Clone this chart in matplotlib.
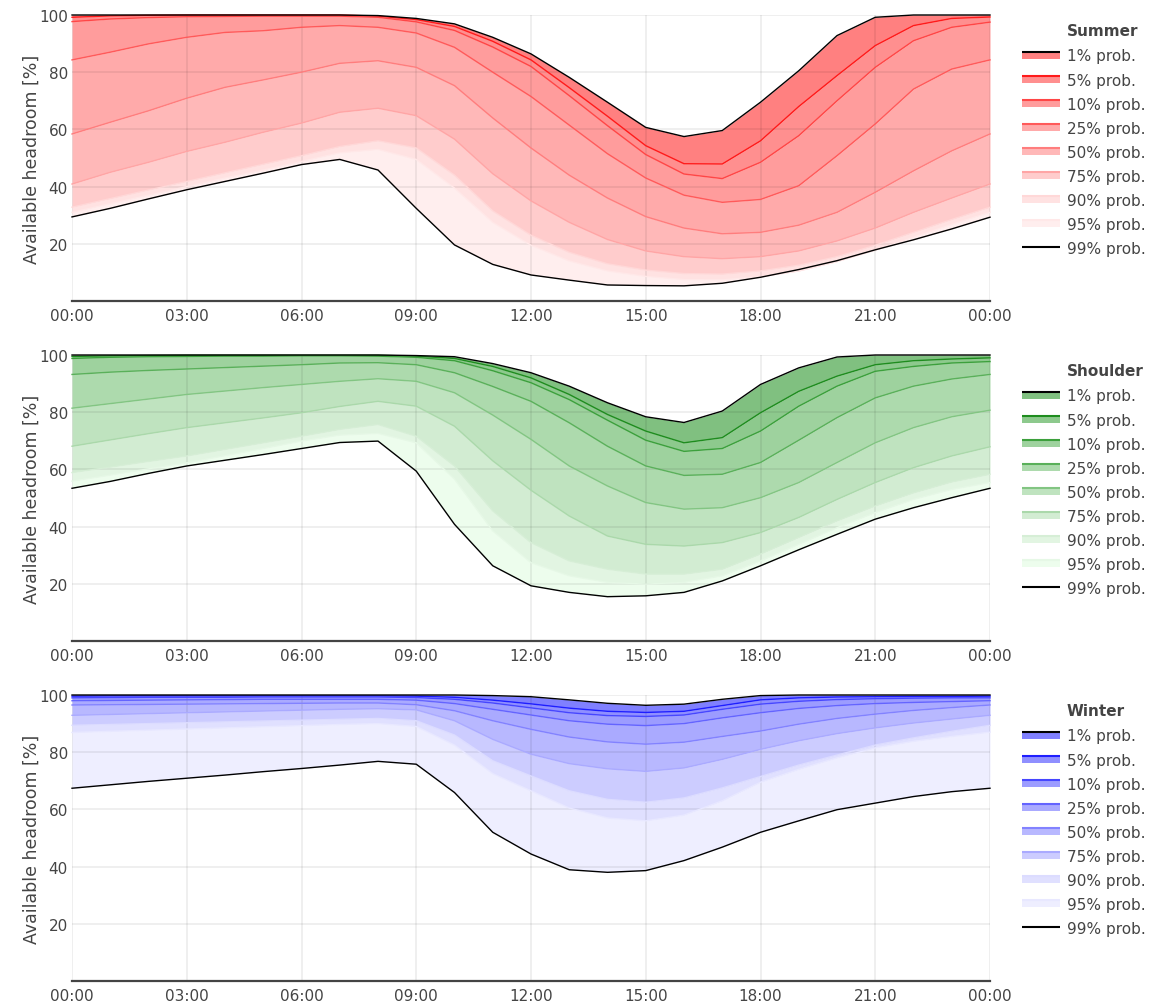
import matplotlib
matplotlib.use("Agg")
import matplotlib.pyplot as plt
from matplotlib.legend_handler import HandlerBase
from matplotlib.patches import Rectangle, Patch
from matplotlib.lines import Line2D

plt.rcParams['font.family'] = ['DejaVu Sans']

hours = list(range(25))
tick_hours = [0, 3, 6, 9, 12, 15, 18, 21, 24]
tick_labels = ["00:00", "03:00", "06:00", "09:00", "12:00", "15:00", "18:00", "21:00", "00:00"]
y_ticks = [20, 40, 60, 80, 100]
prob_labels = ["1% prob.", "5% prob.", "10% prob.", "25% prob.", "50% prob.",
               "75% prob.", "90% prob.", "95% prob.", "99% prob."]
seasons = ["Summer", "Shoulder", "Winter"]

# summer headroom per probability level (hourly, 00:00 .. 24:00)
summer_p1 = [100, 100, 100, 100, 100, 100, 100, 100, 99.8, 98.8, 96.9, 92.2, 86.4, 78.2, 69.5, 60.7, 57.5, 59.6, 69.5, 80.5, 92.8, 99.2, 100, 100, 100]
summer_p5 = [99.2, 99.7, 99.9, 100, 100, 100, 100, 100, 99.6, 98.4, 96.0, 90.8, 84.3, 74.6, 64.6, 54.3, 48.0, 47.9, 56.0, 68.0, 78.8, 89.3, 96.3, 98.8, 99.3]
summer_p10 = [97.7, 98.6, 99.1, 99.4, 99.5, 99.6, 99.6, 99.6, 99.2, 97.6, 94.6, 88.8, 82.0, 71.8, 61.3, 51.2, 44.4, 42.8, 48.5, 57.8, 70.0, 81.7, 91.0, 95.7, 97.5]
summer_p25 = [84.3, 87.0, 89.9, 92.2, 93.9, 94.5, 95.7, 96.3, 95.7, 93.7, 88.7, 80.0, 71.5, 61.5, 51.5, 43.0, 37.0, 34.5, 35.5, 40.3, 50.8, 61.9, 74.1, 81.1, 84.3]
summer_p50 = [58.4, 62.5, 66.5, 70.9, 74.7, 77.3, 80.0, 83.1, 84.0, 81.7, 75.3, 64.0, 53.5, 44.0, 36.0, 29.5, 25.5, 23.5, 24.0, 26.5, 31.0, 38.0, 45.5, 52.5, 58.4]
summer_p75 = [40.9, 45.0, 48.5, 52.3, 55.5, 59.0, 62.2, 66.0, 67.4, 64.8, 56.6, 44.5, 35.0, 27.5, 21.5, 17.5, 15.5, 14.8, 15.5, 17.5, 21.0, 25.5, 31.0, 36.0, 40.9]
summer_p90 = [32.8, 35.8, 38.8, 41.8, 44.8, 47.8, 50.8, 54.0, 56.0, 53.5, 44.0, 31.5, 23.0, 17.0, 13.0, 10.8, 9.6, 9.4, 10.5, 12.5, 15.5, 19.5, 24.0, 28.5, 32.8]
summer_p95 = [31.0, 34.0, 37.0, 40.0, 43.0, 45.8, 48.8, 51.8, 53.0, 49.5, 39.5, 27.5, 19.5, 14.0, 10.5, 8.6, 7.5, 7.4, 8.5, 10.5, 13.8, 17.8, 22.3, 26.8, 31.0]
summer_p99 = [29.4, 32.4, 35.7, 38.9, 41.8, 44.7, 47.7, 49.5, 45.8, 32.4, 19.6, 12.8, 9.1, 7.3, 5.6, 5.4, 5.3, 6.2, 8.3, 11.0, 14.1, 17.9, 21.4, 25.2, 29.3]

# shoulder
shoulder_p1 = [100, 100, 100, 100, 100, 100, 100, 100, 100, 99.8, 99.4, 97.0, 93.8, 89.1, 83.3, 78.4, 76.4, 80.4, 89.7, 95.5, 99.3, 100, 100, 100, 100]
shoulder_p5 = [99.5, 99.7, 99.8, 99.9, 99.9, 99.9, 99.9, 99.9, 99.9, 99.6, 98.8, 96.0, 92.0, 86.2, 79.2, 73.4, 69.3, 71.1, 79.8, 87.3, 92.6, 96.6, 98.0, 98.6, 99.0]
shoulder_p10 = [98.8, 99.2, 99.4, 99.5, 99.6, 99.6, 99.7, 99.7, 99.6, 99.2, 98.0, 94.5, 90.3, 84.4, 77.2, 70.2, 66.3, 67.3, 73.4, 82.1, 89.1, 94.3, 96.0, 97.2, 97.7]
shoulder_p25 = [93.2, 94.0, 94.6, 95.1, 95.6, 96.1, 96.6, 97.2, 97.3, 96.6, 93.8, 89.0, 83.8, 76.3, 68.1, 61.2, 57.9, 58.3, 62.4, 70.2, 78.1, 85.0, 89.1, 91.6, 93.2]
shoulder_p50 = [81.4, 83.0, 84.6, 86.2, 87.4, 88.6, 89.7, 90.8, 91.7, 90.8, 86.8, 79.0, 70.5, 61.2, 54.2, 48.4, 46.1, 46.6, 50.1, 55.4, 62.4, 69.3, 74.6, 78.4, 80.7]
shoulder_p75 = [68.1, 70.3, 72.5, 74.6, 76.3, 78.0, 79.8, 82.0, 83.8, 82.1, 75.1, 63.0, 52.7, 43.7, 36.7, 33.8, 33.2, 34.4, 37.9, 43.2, 49.5, 55.4, 60.6, 64.7, 67.9]
shoulder_p90 = [58.9, 60.8, 62.8, 64.7, 67.0, 69.3, 71.6, 74.0, 75.7, 71.6, 61.2, 45.5, 34.4, 28.0, 25.1, 23.4, 23.4, 25.1, 30.4, 36.2, 42.0, 47.2, 51.8, 55.6, 58.3]
shoulder_p95 = [55.9, 58.0, 60.2, 62.3, 64.8, 67.3, 69.9, 72.0, 72.6, 69.3, 56.6, 38.5, 27.4, 22.8, 20.5, 19.9, 20.5, 22.8, 28.0, 33.8, 39.6, 44.9, 49.5, 53.0, 55.4]
shoulder_p99 = [53.4, 55.8, 58.6, 61.2, 63.2, 65.2, 67.3, 69.4, 69.9, 59.4, 40.8, 26.3, 19.3, 17.0, 15.5, 15.8, 17.0, 21.0, 26.3, 31.9, 37.3, 42.6, 46.6, 50.1, 53.4]

# winter
winter_p1 = [100, 100, 100, 100, 100, 100, 100, 100, 100, 100, 100, 99.8, 99.4, 98.3, 97.1, 96.4, 96.8, 98.5, 99.8, 100, 100, 100, 100, 100, 100]
winter_p5 = [99.6, 99.7, 99.7, 99.7, 99.7, 99.7, 99.7, 99.7, 99.7, 99.6, 99.2, 98.2, 96.9, 95.4, 94.3, 93.9, 94.3, 96.3, 98.3, 99.0, 99.3, 99.4, 99.5, 99.5, 99.6]
winter_p10 = [99.0, 99.1, 99.2, 99.2, 99.2, 99.3, 99.3, 99.3, 99.3, 99.1, 98.5, 97.2, 95.5, 93.8, 92.8, 92.5, 93.0, 95.0, 96.8, 97.8, 98.4, 98.7, 98.9, 99.0, 99.0]
winter_p25 = [98.0, 98.1, 98.2, 98.3, 98.4, 98.5, 98.5, 98.5, 98.5, 98.2, 97.0, 95.0, 93.0, 91.0, 89.8, 89.3, 90.0, 92.0, 93.8, 95.3, 96.3, 97.0, 97.4, 97.7, 98.0]
winter_p50 = [96.5, 96.6, 96.7, 96.8, 96.9, 97.0, 97.1, 97.2, 97.2, 96.6, 94.5, 91.0, 88.0, 85.3, 83.6, 82.8, 83.5, 85.5, 87.4, 89.8, 91.8, 93.3, 94.6, 95.6, 96.5]
winter_p75 = [92.9, 93.2, 93.5, 93.8, 94.1, 94.4, 94.7, 95.0, 95.2, 94.8, 91.0, 84.5, 79.3, 76.0, 74.2, 73.3, 74.5, 77.5, 81.0, 84.0, 86.5, 88.5, 90.2, 91.6, 92.9]
winter_p90 = [89.4, 89.7, 90.0, 90.3, 90.6, 90.9, 91.2, 91.5, 91.8, 91.0, 86.0, 77.0, 71.7, 66.5, 63.5, 62.5, 64.0, 67.5, 71.5, 75.5, 79.0, 82.5, 85.0, 87.3, 89.4]
winter_p95 = [86.9, 87.3, 87.7, 88.1, 88.5, 88.9, 89.3, 89.7, 90.0, 89.0, 82.5, 72.5, 66.5, 60.5, 57.0, 56.0, 58.0, 63.0, 69.5, 74.0, 78.0, 81.5, 83.8, 85.5, 87.0]
winter_p99 = [67.4, 68.6, 69.8, 70.9, 72.0, 73.2, 74.3, 75.5, 76.8, 75.8, 65.9, 52.0, 44.4, 38.9, 38.0, 38.6, 42.1, 46.8, 52.0, 56.0, 59.9, 62.2, 64.5, 66.2, 67.4]

summer = [summer_p1, summer_p5, summer_p10, summer_p25, summer_p50, summer_p75, summer_p90, summer_p95, summer_p99]
shoulder = [shoulder_p1, shoulder_p5, shoulder_p10, shoulder_p25, shoulder_p50, shoulder_p75, shoulder_p90, shoulder_p95, shoulder_p99]
winter = [winter_p1, winter_p5, winter_p10, winter_p25, winter_p50, winter_p75, winter_p90, winter_p95, winter_p99]

# fill colour of each band (band below the line of the same prob.)
summer_fill = ["#ff8080", "#ff8f8f", "#ff9c9c", "#ffaaaa", "#ffb8b8", "#ffcccc", "#ffe2e2", "#ffeeee"]
shoulder_fill = ["#80c080", "#8dc98d", "#9ed29e", "#addaad", "#bfe3bf", "#d2ecd2", "#e2f5e2", "#edfded"]
winter_fill = ["#8080ff", "#8f8fff", "#9c9cff", "#aaaaff", "#b8b8ff", "#ccccff", "#e0e0ff", "#eeeeff"]
summer_line = ["black", "#ff1a1a", "#ff4646", "#ff5a5a", "#ff7d7d", "#ffa5a5", "#ffd8d8", "#ffe8e8", "black"]
shoulder_line = ["black", "#1e8c1e", "#3ca03c", "#5ab05a", "#82c582", "#aad8aa", "#d6eed6", "#e6f8e6", "black"]
winter_line = ["black", "#1e1eff", "#4646ff", "#6464ff", "#8282ff", "#aaaaff", "#dcdcff", "#e8e8ff", "black"]

text_col = "#444444"


class BandHandler(HandlerBase):
    def create_artists(self, legend, orig_handle, xdescent, ydescent, width, height, fontsize, trans):
        x0, y0 = -xdescent, -ydescent
        arts = []
        if orig_handle.get_fill():
            arts.append(Rectangle((x0, y0 + 0.15 * height), width, 0.66 * height,
                                  facecolor=orig_handle.get_facecolor(), edgecolor="none", transform=trans))
            ly = y0 + 0.81 * height
        else:
            ly = y0 + 0.57 * height
        arts.append(Line2D([x0, x0 + width], [ly, ly], color=orig_handle.get_edgecolor(),
                           lw=1.5, transform=trans, solid_capstyle="butt"))
        return arts


fig = plt.figure(figsize=(11.52, 10.03), dpi=100)
W, H = 1152.0, 1003.0
panel_tops = [16, 356, 696]

for k, (name, lines, fills, lcols) in enumerate(zip(seasons, [summer, shoulder, winter],
                                                     [summer_fill, shoulder_fill, winter_fill],
                                                     [summer_line, shoulder_line, winter_line])):
    top = panel_tops[k]
    ax = fig.add_axes([72 / W, 1 - (top + 286) / H, 918 / W, 286 / H])

    for i in range(8):
        ax.fill_between(hours, lines[i + 1], lines[i], color=fills[i], lw=0, zorder=0.3)
    for i in range(9):
        z = 3 if lcols[i] == "black" else 2
        ax.plot(hours, lines[i], color=lcols[i], lw=1.0, zorder=z, clip_on=False)

    ax.set_xlim(0, 24)
    ax.set_ylim(0, 100)
    ax.set_xticks(tick_hours)
    ax.set_xticklabels(tick_labels)
    ax.set_yticks(y_ticks)
    ax.set_axisbelow(True)
    ax.grid(True, color="black", alpha=0.07, lw=1.3)
    for s in ["top", "right", "left"]:
        ax.spines[s].set_visible(False)
    ax.spines["bottom"].set_color(text_col)
    ax.spines["bottom"].set_linewidth(1.6)
    ax.tick_params(axis="both", length=0, labelsize=11, labelcolor=text_col)
    ax.tick_params(axis="x", pad=5)
    ax.tick_params(axis="y", pad=3)
    ax.set_ylabel("Available headroom [%]", fontsize=12.5, color=text_col)
    ax.yaxis.set_label_coords(-0.034, 0.5)

    # legend
    handles = []
    for i in range(9):
        if i < 8:
            handles.append(Patch(facecolor=fills[i], edgecolor=lcols[i]))
        else:
            handles.append(Patch(facecolor="none", edgecolor=lcols[i], fill=False))
    fig.text(1067 / W, 1 - (top + 16) / H, name, fontsize=11, fontweight="bold",
             color=text_col, va="center", ha="left")
    fig.legend(handles, prob_labels, loc="upper left",
               bbox_to_anchor=(1022 / W, 1 - (top + 33.5) / H), bbox_transform=fig.transFigure,
               frameon=False, fontsize=11, labelcolor=text_col, handlelength=2.5,
               handleheight=0.7, handletextpad=0.45, labelspacing=0.59,
               borderpad=0, borderaxespad=0, handler_map={Patch: BandHandler()})

fig.savefig("out.png", dpi=100)
